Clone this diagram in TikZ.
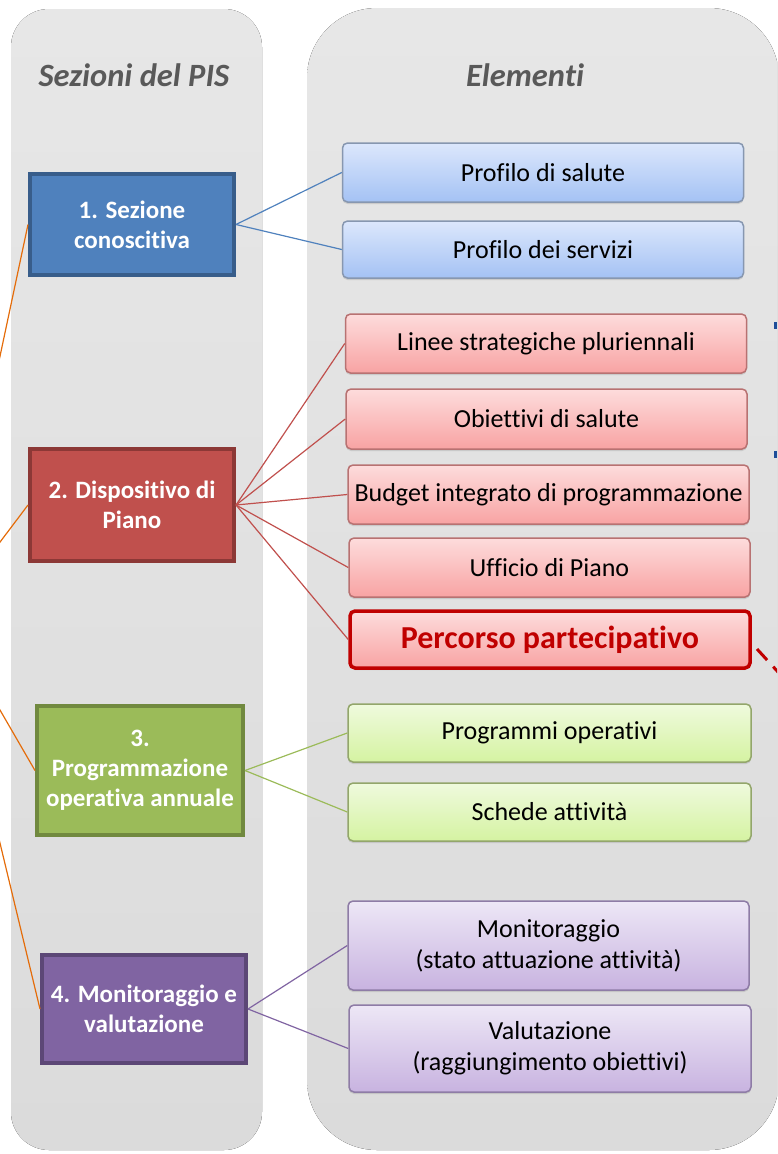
\documentclass[tikz,border=0pt]{standalone}
\usepackage{fontspec}
\setmainfont{Carlito}[Ligatures=NoCommon]
\usetikzlibrary{shadows}

\definecolor{pannello}{HTML}{E7E7E7}
\definecolor{pannellob}{HTML}{DBDBDB}
\definecolor{titolo}{HTML}{595959}
\definecolor{blu}{HTML}{4F81BD}
\definecolor{blub}{HTML}{385D8A}
\definecolor{rosso}{HTML}{C0504D}
\definecolor{rossob}{HTML}{8C3836}
\definecolor{verde}{HTML}{9BBB59}
\definecolor{verdeb}{HTML}{71893F}
\definecolor{viola}{HTML}{8064A2}
\definecolor{violab}{HTML}{5C4776}
\definecolor{arancio}{HTML}{E46C0A}
\definecolor{rossoacceso}{HTML}{C00000}
\definecolor{bluscuro}{HTML}{1F4E99}
\definecolor{bluchiaro}{HTML}{DCE7FC}
\definecolor{bluchiarob}{HTML}{A4C2F4}
\definecolor{bluchiarod}{HTML}{8797B0}
\definecolor{rosachiaro}{HTML}{FDDCDC}
\definecolor{rosachiarob}{HTML}{F8A3A3}
\definecolor{rosachiarod}{HTML}{B87272}
\definecolor{verdechiaro}{HTML}{EFFADD}
\definecolor{verdechiarob}{HTML}{D5F3A2}
\definecolor{verdechiarod}{HTML}{93A66B}
\definecolor{violachiaro}{HTML}{EDE7F6}
\definecolor{violachiarob}{HTML}{C8B3E0}
\definecolor{violachiarod}{HTML}{8E7CA6}

\begin{document}
\begin{tikzpicture}[x=1pt,y=-1pt,
    sezione/.style={draw, line width=4pt, minimum width=204pt, text=white,
        font=\bfseries\fontsize{25}{30}\selectfont, align=center, inner sep=2pt},
    elemento/.style={draw, line width=1.5pt, rounded corners=5pt, minimum width=401pt,
        minimum height=59pt, font=\fontsize{26}{31}\selectfont, align=center, inner sep=2pt,
        drop shadow={opacity=0.25, shadow xshift=0pt, shadow yshift=-2pt}},
    elblu/.style={elemento, draw=bluchiarod, top color=bluchiaro, bottom color=bluchiarob},
    elrosso/.style={elemento, draw=rosachiarod, top color=rosachiaro, bottom color=rosachiarob},
    elverde/.style={elemento, draw=verdechiarod, top color=verdechiaro, bottom color=verdechiarob},
    elviola/.style={elemento, draw=violachiarod, top color=violachiaro, bottom color=violachiarob},
    titolopan/.style={font=\bfseries\itshape\fontsize{32.5}{38}\selectfont, text=titolo, anchor=base},
    lin/.style={line width=1.2pt}]
        \useasboundingbox (0,0) rectangle (777,1154);
        \clip (0,0) rectangle (777,1154);

        \fill[top color=pannello, bottom color=pannellob, rounded corners=38pt] (11,9) rectangle (262,1150);
        \fill[top color=pannello, bottom color=pannellob, rounded corners=70pt] (307,8) rectangle (779,1150);

        \node[titolopan] (tsez) at (134,86) {Sezioni del PIS};
        \node[titolopan] (tel) at (525,86) {Elementi};

        \node[sezione, fill=blu, draw=blub, minimum height=101pt] (s1) at (132,224.5) {1. Sezione\\conoscitiva};
        \node[sezione, fill=rosso, draw=rossob, minimum height=112pt] (s2) at (132,505) {2. Dispositivo di\\Piano};
        \node[sezione, fill=verde, draw=verdeb, minimum width=206pt, minimum height=129pt] (s3) at (140,770.5) {3.\\Programmazione\\operativa annuale};
        \node[sezione, fill=viola, draw=violab, minimum height=108pt] (s4) at (144,1009) {4. Monitoraggio e\\valutazione};

        \node[elblu] (e1) at (543,172.5) {Profilo di salute};
        \node[elblu, minimum height=57pt] (e2) at (543,249.5) {Profilo dei servizi};
        \node[elrosso] (e3) at (546,343.5) {Linee strategiche pluriennali};
        \node[elrosso, minimum height=60pt] (e4) at (546.5,419) {Obiettivi di salute};
        \node[elrosso] (e5) at (548.5,494.5) {Budget integrato di programmazione};
        \node[elrosso] (e6) at (549.5,567.5) {Ufficio di Piano};
        \node[elrosso, draw=rossoacceso, line width=3.5pt, text=rossoacceso, minimum width=400pt, minimum height=57pt,
            font=\bfseries\fontsize{32}{37}\selectfont] (e7) at (550,639.5) {Percorso partecipativo};
        \node[elverde, minimum width=403pt, minimum height=58pt] (e8) at (549.5,733) {Programmi operativi};
        \node[elverde, minimum width=403pt, minimum height=58pt] (e9) at (549.5,812) {Schede attività};
        \node[elviola, minimum height=89pt] (e10) at (548.5,945.5) {Monitoraggio\\(stato attuazione attività)};
        \node[elviola, minimum width=402pt, minimum height=87pt] (e11) at (550,1048.5) {Valutazione\\(raggiungimento obiettivi)};

        \coordinate (pis) at (-55,615);
        \foreach \s in {s1,s2,s3,s4}
            \draw[lin, arancio] (pis) -- (\s.west);

        \foreach \e in {e1,e2}
            \draw[lin, blu] (s1.east) -- (\e.west);
        \foreach \e in {e3,e4,e5,e6,e7}
            \draw[lin, rosso] (s2.east) -- (\e.west);
        \foreach \e in {e8,e9}
            \draw[lin, verde] (s3.east) -- (\e.west);
        \foreach \e in {e10,e11}
            \draw[lin, viola] (s4.east) -- (\e.west);

        \coordinate (b1) at (775.5,322);
        \coordinate (b1b) at (775.5,329);
        \coordinate (b2) at (775.5,451);
        \coordinate (b2b) at (775.5,458);
        \draw[bluscuro, line width=3pt] (b1) -- (b1b);
        \draw[bluscuro, line width=3pt] (b2) -- (b2b);

        \coordinate (pp) at (757,649);
        \coordinate (ppfuori) at (800,696);
        \draw[rossoacceso, line width=3pt, dash pattern=on 15pt off 9pt] (pp) -- (ppfuori);
    \end{tikzpicture}
\end{document}
